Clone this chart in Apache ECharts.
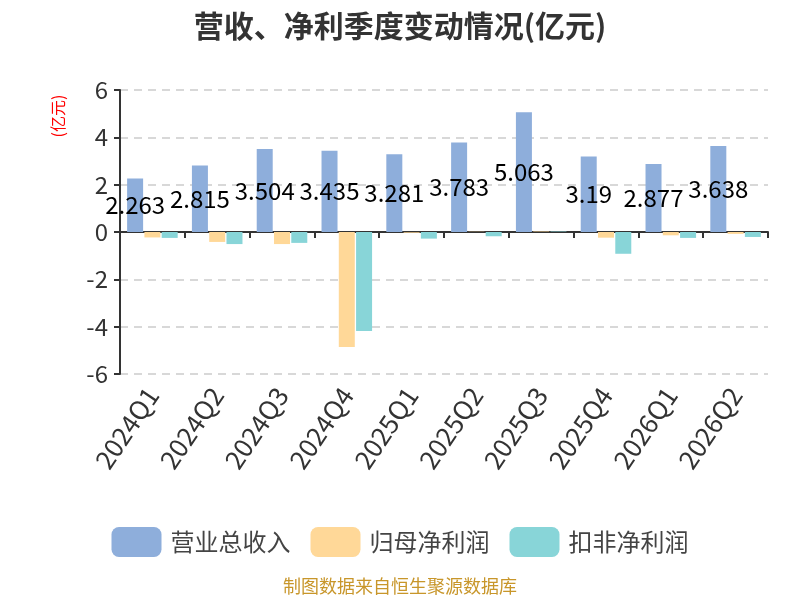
<!DOCTYPE html>
<html>
<head>
<meta charset="utf-8">
<script src="https://cdn.jsdelivr.net/npm/echarts@6/dist/echarts.min.js"></script>
<style>
  html, body { margin: 0; padding: 0; background: #fff; }
  #chart { width: 800px; height: 600px; }
</style>
</head>
<body>
<div id="chart"></div>
<script>
const quarters = ['2024Q1', '2024Q2', '2024Q3', '2024Q4', '2025Q1', '2025Q2', '2025Q3', '2025Q4', '2026Q1', '2026Q2'];
const revenue = [2.263, 2.815, 3.504, 3.435, 3.281, 3.783, 5.063, 3.19, 2.877, 3.638];
const netProfit = [-0.23, -0.42, -0.51, -4.86, -0.03, 0.01, 0.02, -0.24, -0.14, -0.08];
const deductedProfit = [-0.25, -0.51, -0.46, -4.18, -0.28, -0.18, 0.02, -0.92, -0.25, -0.21];
const yTicks = [-6, -4, -2, 0, 2, 4, 6];

const chart = echarts.init(document.getElementById('chart'));
const font = "'Noto Sans CJK SC', 'Noto Sans', sans-serif";

chart.setOption({
  textStyle: { fontFamily: font },
  title: [
    {
      text: '营收、净利季度变动情况(亿元)',
      left: 'center',
      top: 6,
      textStyle: { fontSize: 30, fontWeight: 'bold', color: '#333', fontFamily: font },
    },
    {
      text: '制图数据来自恒生聚源数据库',
      left: 'center',
      bottom: 0,
      textStyle: { fontSize: 18, fontWeight: 'normal', color: '#c8962a', fontFamily: font },
    },
  ],
  graphic: [
    {
      type: 'text',
      x: 58,
      y: 116,
      rotation: Math.PI / 2,
      style: {
        text: '(亿元)',
        fill: 'red',
        fontSize: 16,
        fontFamily: font,
        align: 'center',
        verticalAlign: 'middle',
      },
    },
  ],
  legend: {
    top: 522,
    left: 'center',
    icon: 'roundRect',
    itemWidth: 50,
    itemHeight: 30,
    itemGap: 20,
    textStyle: { fontSize: 24, color: '#444', padding: [0, 0, 0, 4] },
    data: ['营业总收入', '归母净利润', '扣非净利润'],
  },
  grid: { left: 120, right: 32, top: 90, bottom: 226 },
  xAxis: {
    type: 'category',
    data: quarters,
    axisLine: { onZero: true, lineStyle: { color: '#333', width: 2 } },
    axisTick: { show: true, length: 6, lineStyle: { color: '#333', width: 2 } },
    axisLabel: { rotate: 56, fontSize: 26, color: '#333', interval: 0, margin: 16 },
  },
  yAxis: {
    type: 'value',
    min: yTicks[0],
    max: yTicks[yTicks.length - 1],
    interval: 2,
    axisLine: { show: true, lineStyle: { color: '#333', width: 2 } },
    axisTick: { show: true, length: 6, lineStyle: { color: '#333', width: 2 } },
    axisLabel: { fontSize: 24, color: '#333', margin: 12 },
    splitLine: { lineStyle: { type: [8, 6], color: '#ccc', width: 1.5 } },
  },
  series: [
    {
      name: '营业总收入',
      type: 'bar',
      data: revenue,
      barWidth: 16,
      barGap: '8%',
      itemStyle: { color: '#8eaedb' },
      label: { show: true, position: 'inside', color: '#000', fontSize: 24 },
    },
    {
      name: '归母净利润',
      type: 'bar',
      data: netProfit,
      barWidth: 16,
      barGap: '8%',
      itemStyle: { color: '#ffd898' },
    },
    {
      name: '扣非净利润',
      type: 'bar',
      data: deductedProfit,
      barWidth: 16,
      barGap: '8%',
      itemStyle: { color: '#88d5d8' },
    },
  ],
});
</script>
</body>
</html>
